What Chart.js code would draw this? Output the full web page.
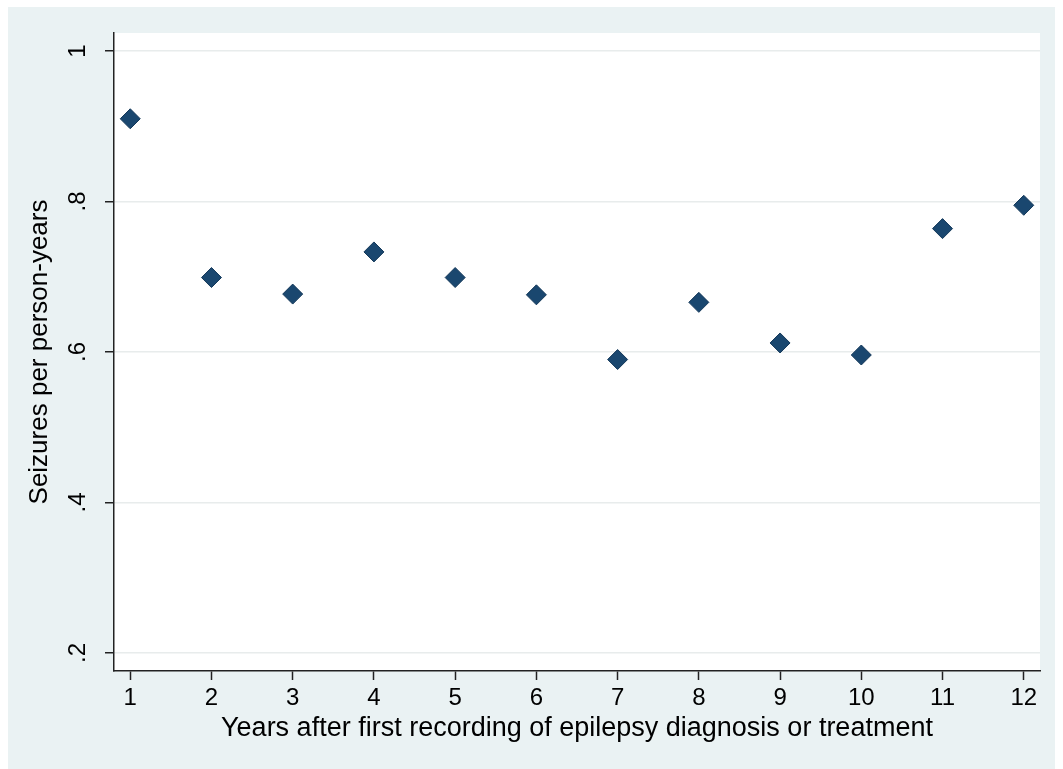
<!DOCTYPE html>
<html>
<head>
<meta charset="utf-8">
<script src="https://cdn.jsdelivr.net/npm/chart.js@4/dist/chart.umd.min.js"></script>
<style>
  html, body { margin: 0; padding: 0; background: #fff; }
  #wrap { width: 1063px; height: 769px; }
</style>
</head>
<body>
<div id="wrap"><canvas id="chart" width="1063" height="769"></canvas></div>
<script>
// Data
const years = [1, 2, 3, 4, 5, 6, 7, 8, 9, 10, 11, 12];
const seizureRate = [0.910, 0.699, 0.677, 0.733, 0.699, 0.676, 0.590, 0.666, 0.612, 0.596, 0.764, 0.795];
const yTickValues = [0.2, 0.4, 0.6, 0.8, 1];
const yTickLabels = ['.2', '.4', '.6', '.8', '1'];

const FONT = 'Liberation Sans, Arial, sans-serif';

// Stata-like frame: bluish outer region, white plot area
const backdrop = {
    id: 'backdrop',
    beforeDraw(chart) {
        const c = chart.ctx;
        const a = chart.chartArea;
        c.save();
        c.fillStyle = '#ffffff';
        c.fillRect(0, 0, chart.width, chart.height);
        c.fillStyle = '#eaf2f3';
        c.fillRect(8, 7, 1047, 762);
        c.fillStyle = '#ffffff';
        c.fillRect(a.left, a.top, a.right - a.left, a.bottom - a.top);
        c.restore();
    }
};

// y tick labels are rotated, reading bottom to top
const rotatedYLabels = {
    id: 'rotatedYLabels',
    afterDraw(chart) {
        const c = chart.ctx;
        const y = chart.scales.y;
        c.save();
        c.fillStyle = '#000';
        c.font = '24px ' + FONT;
        c.textAlign = 'center';
        c.textBaseline = 'middle';
        yTickValues.forEach((v, i) => {
            c.save();
            c.translate(78, y.getPixelForValue(v));
            c.rotate(-Math.PI / 2);
            c.fillText(yTickLabels[i], 0, 0);
            c.restore();
        });
        c.restore();
    }
};

new Chart(document.getElementById('chart'), {
    type: 'scatter',
    data: {
        datasets: [{
            data: years.map((x, i) => ({ x: x, y: seizureRate[i] })),
            pointStyle: 'rectRot',
            pointRadius: 10,
            pointHoverRadius: 10,
            backgroundColor: '#1a476f',
            borderColor: '#15395a',
            borderWidth: 1
        }]
    },
    options: {
        responsive: false,
        animation: false,
        layout: { padding: { left: 0, top: 33, right: 23, bottom: 0 } },
        plugins: {
            legend: { display: false },
            tooltip: { enabled: false }
        },
        scales: {
            x: {
                type: 'linear',
                min: 0.8,
                max: 12.2,
                afterBuildTicks: s => { s.ticks = years.map(v => ({ value: v })); },
                afterFit: s => { s.height = 98; },
                grid: {
                    drawOnChartArea: false,
                    tickLength: 9,
                    tickColor: '#222',
                    tickWidth: 1.5
                },
                border: { color: '#222', width: 1.5 },
                ticks: {
                    color: '#000',
                    font: { family: FONT, size: 24 },
                    padding: 4,
                    maxRotation: 0,
                    autoSkip: false
                },
                title: {
                    display: true,
                    text: 'Years after first recording of epilepsy diagnosis or treatment',
                    color: '#000',
                    font: { family: FONT, size: 27 },
                    padding: { top: 0, bottom: 24 }
                }
            },
            y: {
                min: 0.176,
                max: 1.024,
                afterBuildTicks: s => { s.ticks = yTickValues.map(v => ({ value: v })); },
                afterFit: s => { s.width = 114; },
                grid: {
                    color: '#e8ecec',
                    lineWidth: 1.5,
                    tickLength: 9,
                    tickColor: '#222',
                    tickWidth: 1.5
                },
                border: { color: '#222', width: 1.5 },
                ticks: { display: false },
                title: {
                    display: true,
                    text: 'Seizures per person-years',
                    color: '#000',
                    font: { family: FONT, size: 26 },
                    padding: { top: 24, bottom: 0 }
                }
            }
        }
    },
    plugins: [backdrop, rotatedYLabels]
});
</script>
</body>
</html>
